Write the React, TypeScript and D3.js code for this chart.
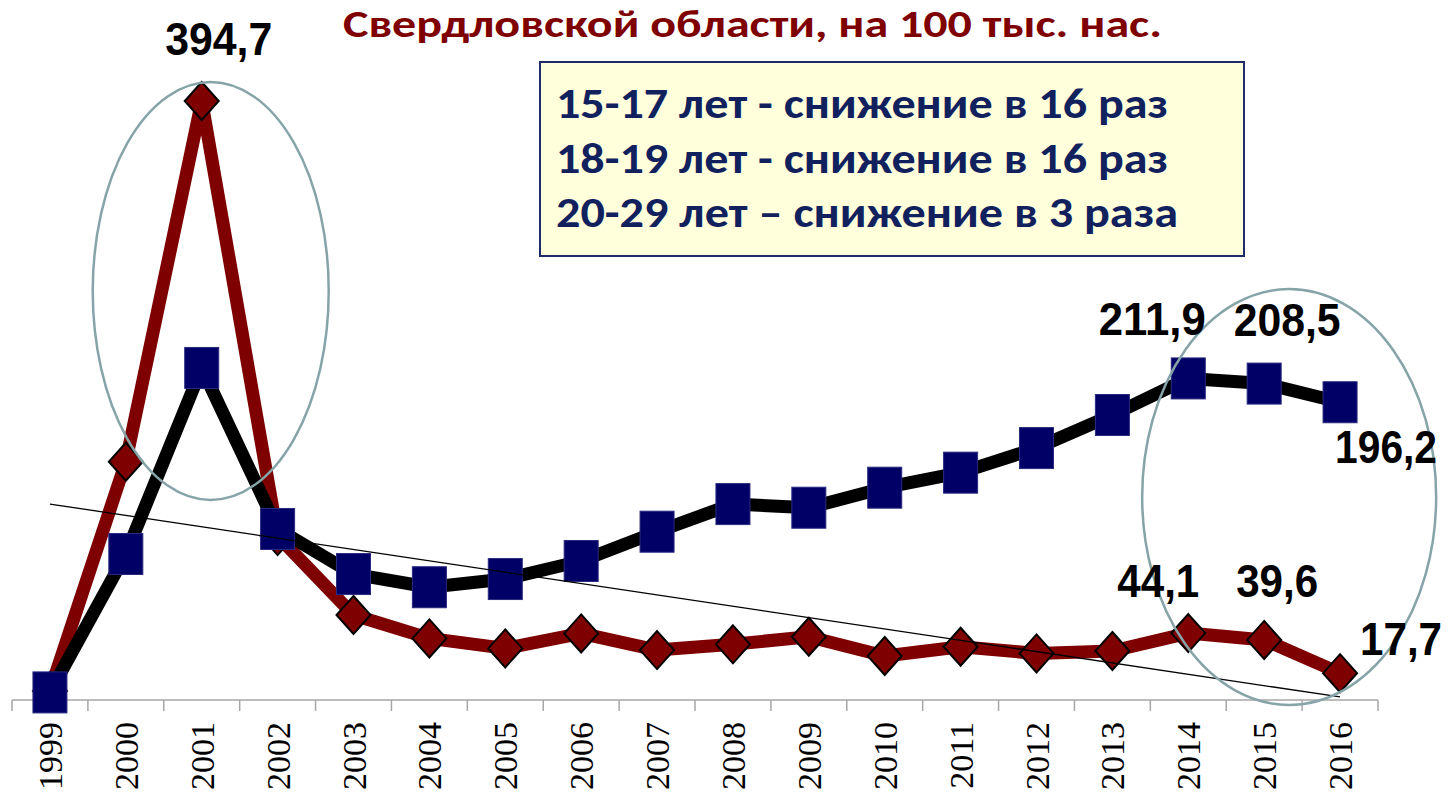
import React from 'react';
import * as d3 from 'd3';

// годы и значения (на 100 тыс. нас.)
const years = ['1999', '2000', '2001', '2002', '2003', '2004', '2005', '2006', '2007', '2008', '2009', '2010', '2011', '2012', '2013', '2014', '2015', '2016'];
const teen = [6, 157, 394.7, 108, 56, 40.6, 34, 43.9, 32.9, 36.7, 41.7, 29, 35.1, 30.7, 32.3, 44.1, 39.6, 17.7];
const adult = [5, 96.2, 218.8, 112.7, 83, 74.3, 79.7, 91.6, 110.9, 129.1, 126.7, 139.9, 149.8, 166, 187.8, 211.9, 208.5, 196.2];

const titleText = 'Свердловской области, на 100 тыс. нас.';
const noteLines = ['15-17 лет - снижение в 16 раз', '18-19 лет - снижение в 16 раз', '20-29 лет – снижение в 3 раза'];

// подписи значений: ряд, год, смещение подписи от точки
const valueLabels = [
  { series: 'teen', year: '2001', dx: 17, dy: -46, w: 107 },
  { series: 'adult', year: '2014', dx: -36, dy: -43, w: 107 },
  { series: 'adult', year: '2015', dx: 23, dy: -48, w: 107 },
  { series: 'adult', year: '2016', dx: 46, dy: 61, w: 102 },
  { series: 'teen', year: '2014', dx: -30, dy: -36, w: 82 },
  { series: 'teen', year: '2015', dx: 13, dy: -43, w: 82 },
  { series: 'teen', year: '2016', dx: 61, dy: -18, w: 82 },
];

const W = 1454;
const H = 795;
const RED = '#7f0000';
const NAVY = '#000066';
const RING = '#86a4a8';

const ru = d3.formatLocale({ decimal: ',', thousands: ' ', grouping: [3], currency: ['', ''] });
const fmt = ru.format('.1f');

export default function App() {
  const x = d3.scaleBand<string>().domain(years).range([12, 1378]);
  const cx = (yr: string) => (x(yr) as number) + x.bandwidth() / 2;
  const y = d3.scaleLinear().domain([0, 400]).range([700, 92.96]);

  const line = d3
    .line<number>()
    .x((_, i) => cx(years[i]))
    .y((d) => y(d));

  // линейный тренд по ряду 15-17 лет
  const n = teen.length;
  const mx = d3.mean(d3.range(n)) as number;
  const my = d3.mean(teen) as number;
  const sxy = d3.sum(teen, (v, i) => (i - mx) * (v - my));
  const sxx = d3.sum(d3.range(n), (i) => (i - mx) * (i - mx));
  const slope = sxy / sxx;
  const icpt = my - slope * mx;

  const ticks = years.map((yr) => x(yr) as number).concat([x.range()[1]]);

  const seriesMap: Record<string, number[]> = { teen, adult };

  return (
    <svg width={W} height={H} style={{ position: 'absolute', left: 0, top: 0, background: '#fff' }}>
      {/* ось X */}
      <g>
        <line x1={x.range()[0]} x2={x.range()[1]} y1={y(0)} y2={y(0)} stroke="#a6a6a6" strokeWidth={1.5} />
        {ticks.map((t, i) => (
          <line key={i} x1={t} x2={t} y1={y(0)} y2={y(0) + 11} stroke="#a6a6a6" strokeWidth={1.5} />
        ))}
        {years.map((yr) => (
          <text
            key={yr}
            transform={`translate(${cx(yr) + 12},${y(0) + 22}) rotate(-90)`}
            textAnchor="end"
            style={{ fontFamily: '"Liberation Serif", Tinos, "Times New Roman", "DejaVu Serif", serif' }}
            fontSize={34}
            fill="#000"
          >
            {yr}
          </text>
        ))}
      </g>

      {/* 15-17 лет */}
      <path d={line(teen) as string} fill="none" stroke={RED} strokeWidth={13} strokeLinejoin="round" />
      {teen.map((v, i) => (
        <path
          key={i}
          transform={`translate(${cx(years[i])},${y(v)})`}
          d="M0,-19L17,0L0,19L-17,0Z"
          fill={RED}
          stroke="#000"
          strokeWidth={2}
        />
      ))}

      {/* 20-29 лет */}
      <path d={line(adult) as string} fill="none" stroke="#000" strokeWidth={13} strokeLinejoin="round" />
      {adult.map((v, i) => (
        <rect
          key={i}
          x={cx(years[i]) - 17}
          y={y(v) - 20.5}
          width={34}
          height={41}
          fill={NAVY}
          stroke="#2a2a80"
          strokeWidth={1}
        />
      ))}

      {/* тренд */}
      <line
        x1={cx(years[0])}
        y1={y(icpt)}
        x2={cx(years[n - 1])}
        y2={y(icpt + slope * (n - 1))}
        stroke="#000"
        strokeWidth={1.3}
      />

      {/* овалы */}
      <ellipse cx={cx('2001') + 9} cy={291} rx={118} ry={209} fill="none" stroke={RING} strokeWidth={2.5} />
      <ellipse cx={cx('2015') + 25} cy={497} rx={147} ry={208} fill="none" stroke={RING} strokeWidth={2.5} />

      {/* подписи значений */}
      {valueLabels.map((l, i) => {
        const idx = years.indexOf(l.year);
        const v = seriesMap[l.series][idx];
        return (
          <text
            key={i}
            x={cx(l.year) + l.dx}
            y={y(v) + l.dy}
            textAnchor="middle"
            fontFamily="'Liberation Sans Narrow', 'Arial Narrow', 'Liberation Sans', Arial, sans-serif"
            fontWeight="bold"
            fontSize={47}
            textLength={l.w}
            lengthAdjust="spacingAndGlyphs"
            fill="#000"
          >
            {fmt(v)}
          </text>
        );
      })}

      {/* рамка с комментарием */}
      <rect x={540} y={62} width={704} height={194} fill="#ffffdc" stroke="#1f2a6b" strokeWidth={2} />
      {noteLines.map((t, i) => (
        <text
          key={i}
          x={556}
          y={118 + i * 54.5}
          fontFamily="Carlito, 'Open Sans', sans-serif"
          fontWeight="bold"
          fontSize={42}
          textLength={i === 2 ? 622 : 612}
          lengthAdjust="spacingAndGlyphs"
          fill="#10215e"
        >
          {t}
        </text>
      ))}

      {/* заголовок */}
      <text
        x={343}
        y={37}
        fontFamily="Carlito, 'Open Sans', sans-serif"
        fontWeight="bold"
        fontSize={38}
        textLength={819}
        lengthAdjust="spacingAndGlyphs"
        fill={RED}
      >
        {titleText}
      </text>
    </svg>
  );
}
